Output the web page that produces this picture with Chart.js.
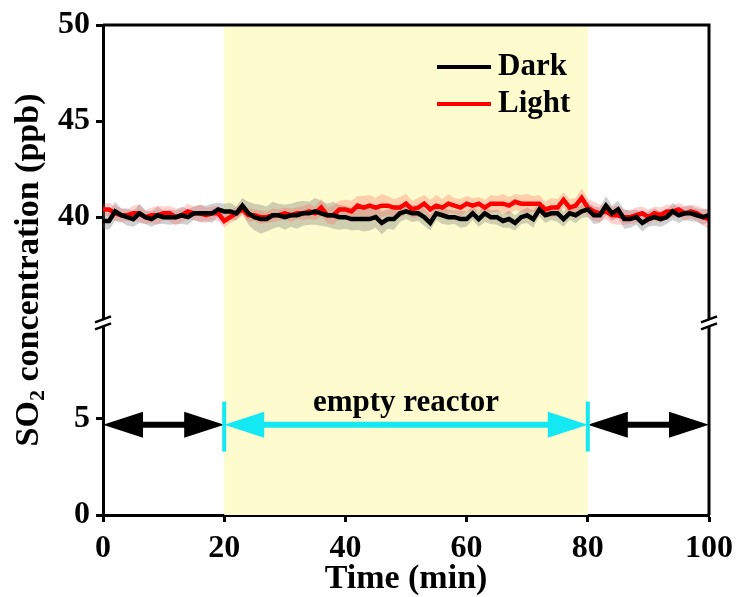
<!DOCTYPE html>
<html>
<head>
<meta charset="utf-8">
<script src="https://cdn.jsdelivr.net/npm/chart.js@4.4.1/dist/chart.umd.min.js"></script>
<style>
html, body { margin: 0; padding: 0; background: #fff; }
</style>
</head>
<body>
<canvas id="so2-chart" width="737" height="597"></canvas>
<script>
// SO2 concentration vs time, broken y axis (0-10 / 34.5-50)

// Data
const timeMin = [0,1,2,3,4,5,6,7,8,9,10,11,12,13,14,15,16,17,18,19,20,21,22,23,24,25,26,27,28,29,30,
  31,32,33,34,35,36,37,38,39,40,41,42,43,44,45,46,47,48,49,50,51,52,53,54,55,56,57,58,59,60,
  61,62,63,64,65,66,67,68,69,70,71,72,73,74,75,76,77,78,79,80,81,82,83,84,85,86,87,88,89,90,
  91,92,93,94,95,96,97,98,99,100];

const darkMean = [39.8,39.8,40.3,40.1,40.0,39.9,40.2,40.0,39.9,40.1,40.0,
  40.0,40.0,40.1,40.0,40.2,40.2,40.2,40.2,40.4,40.3,
  40.3,40.2,40.6,40.2,40.0,39.9,39.9,40.1,40.1,40.0,
  40.1,40.1,40.2,40.2,40.3,40.2,40.1,40.1,40.0,40.0,
  39.9,39.9,39.9,39.9,40.0,39.7,39.9,39.9,40.2,40.3,
  40.2,40.2,40.0,39.7,40.2,40.1,40.0,40.0,39.9,39.9,
  40.2,39.9,40.2,40.0,40.0,39.8,39.9,39.7,40.0,40.1,
  39.9,40.4,40.1,40.2,40.2,39.9,40.2,40.1,40.3,40.4,
  40.1,40.1,40.6,40.2,40.4,39.9,39.9,40.0,39.7,39.9,
  40.0,39.9,40.0,40.3,40.1,40.2,40.2,40.1,40.0,40.1];

const darkSd = [0.4,0.45,0.5,0.35,0.45,0.4,0.5,0.35,0.4,0.45,0.35,
  0.4,0.35,0.45,0.4,0.35,0.45,0.4,0.5,0.35,0.4,
  0.45,0.35,0.4,0.6,0.7,0.75,0.65,0.7,0.6,0.65,
  0.6,0.7,0.65,0.6,0.7,0.65,0.6,0.7,0.65,0.6,
  0.6,0.55,0.65,0.6,0.55,0.6,0.5,0.55,0.45,0.4,
  0.45,0.4,0.45,0.4,0.35,0.45,0.4,0.35,0.45,0.4,
  0.35,0.4,0.45,0.35,0.4,0.35,0.45,0.4,0.35,0.4,
  0.45,0.35,0.4,0.35,0.45,0.4,0.35,0.4,0.35,0.4,
  0.45,0.4,0.5,0.4,0.45,0.5,0.45,0.4,0.45,0.4,
  0.45,0.4,0.35,0.45,0.4,0.35,0.4,0.35,0.4,0.35];

const lightMean = [40.4,40.4,40.2,40.1,40.1,40.2,40.2,40.0,40.1,40.1,40.2,
  40.2,40.0,40.1,40.3,40.2,40.2,40.1,40.2,40.2,39.8,
  40.0,40.2,40.4,40.1,40.1,40.0,40.0,40.1,40.1,40.2,
  40.1,40.2,40.2,40.3,40.2,40.5,40.1,40.1,40.4,40.4,
  40.3,40.6,40.5,40.6,40.5,40.6,40.6,40.5,40.5,40.7,
  40.4,40.5,40.7,40.4,40.6,40.5,40.7,40.6,40.5,40.7,
  40.6,40.7,40.5,40.7,40.7,40.7,40.6,40.8,40.7,40.7,
  40.7,40.7,40.4,40.5,40.5,40.9,40.5,40.6,41.0,40.5,
  40.3,40.2,40.3,40.1,40.1,40.0,40.0,40.1,40.2,40.0,
  40.2,40.1,40.3,40.3,40.4,40.2,40.3,40.2,40.0,39.9];

const lightSd = [0.3,0.35,0.4,0.35,0.3,0.4,0.45,0.35,0.4,0.5,0.35,
  0.4,0.45,0.35,0.4,0.35,0.45,0.4,0.35,0.4,0.35,
  0.3,0.35,0.3,0.35,0.3,0.35,0.3,0.35,0.3,0.3,
  0.35,0.3,0.35,0.4,0.35,0.45,0.4,0.5,0.45,0.5,
  0.55,0.5,0.6,0.55,0.5,0.6,0.5,0.45,0.55,0.5,
  0.45,0.5,0.45,0.5,0.55,0.45,0.5,0.4,0.45,0.4,
  0.4,0.35,0.4,0.45,0.4,0.5,0.45,0.4,0.45,0.5,
  0.4,0.45,0.4,0.5,0.45,0.4,0.45,0.4,0.5,0.45,
  0.5,0.45,0.4,0.45,0.5,0.4,0.35,0.4,0.35,0.4,
  0.35,0.4,0.35,0.3,0.35,0.4,0.35,0.4,0.45,0.5];

const seriesLabels = ["Dark", "Light"];
const xTicks = [0, 20, 40, 60, 80, 100];
const lowTicks = [0, 5];
const highTicks = [40, 45, 50];
const lowRange = [0, 10];
const highRange = [34.5, 50];

// annotation values (data units)
const shadeRange = [20, 80];
const arrowLevel = 4.7;
const blackArrows = [[0, 20], [80, 100]];
const cyanArrow = [20, 80];
const cyanBarRange = [3.3, 5.9];
const annotationLabel = "empty reactor";
const annotationPos = [50, 5.85];

const FONT = "'Liberation Serif', 'Times New Roman', serif";

const xy = (means, sds, sign) => timeMin.map((t, i) => ({ x: t, y: means[i] + sign * sds[i] }));
const line = (means) => timeMin.map((t, i) => ({ x: t, y: means[i] }));

function drawDoubleArrow(ctx, x1, x2, y, color) {
    const head = 40, half = 13;
    ctx.save();
    ctx.strokeStyle = color;
    ctx.fillStyle = color;
    ctx.lineWidth = 6;
    ctx.beginPath();
    ctx.moveTo(x1 + head - 2, y);
    ctx.lineTo(x2 - head + 2, y);
    ctx.stroke();
    ctx.beginPath();
    ctx.moveTo(x1, y);
    ctx.lineTo(x1 + head, y - half);
    ctx.lineTo(x1 + head, y + half);
    ctx.closePath();
    ctx.fill();
    ctx.beginPath();
    ctx.moveTo(x2, y);
    ctx.lineTo(x2 - head, y - half);
    ctx.lineTo(x2 - head, y + half);
    ctx.closePath();
    ctx.fill();
    ctx.restore();
}

function drawBreak(ctx, cx, cy) {
    ctx.save();
    ctx.fillStyle = "#fff";
    ctx.beginPath();
    ctx.moveTo(cx - 4, cy - 1);
    ctx.lineTo(cx + 4, cy - 4);
    ctx.lineTo(cx + 4, cy + 3);
    ctx.lineTo(cx - 4, cy + 6);
    ctx.closePath();
    ctx.fill();
    ctx.strokeStyle = "#000";
    ctx.lineWidth = 2.5;
    for (const dy of [-3.5, 3.5]) {
        ctx.beginPath();
        ctx.moveTo(cx - 8, cy + dy + 3);
        ctx.lineTo(cx + 8, cy + dy - 3);
        ctx.stroke();
    }
    ctx.restore();
}

const decorPlugin = {
    id: "decor",
    beforeDatasetsDraw(chart) {
        const { ctx, chartArea: a, scales: { x } } = chart;
        const x1 = x.getPixelForValue(shadeRange[0]);
        const x2 = x.getPixelForValue(shadeRange[1]);
        ctx.save();
        ctx.fillStyle = "#fefcce";
        ctx.fillRect(x1, a.top, x2 - x1, a.bottom - a.top);
        ctx.restore();
    },
    afterDatasetsDraw(chart) {
        const { ctx, chartArea: a, scales: { x, yLow, yHigh } } = chart;

        // arrows in the lower panel
        const ay = yLow.getPixelForValue(arrowLevel);
        blackArrows.forEach(([s, e]) => drawDoubleArrow(ctx, x.getPixelForValue(s), x.getPixelForValue(e), ay, "#000"));
        drawDoubleArrow(ctx, x.getPixelForValue(cyanArrow[0]), x.getPixelForValue(cyanArrow[1]), ay, "#14e8f2");
        ctx.save();
        ctx.strokeStyle = "#14e8f2";
        ctx.lineWidth = 4;
        cyanArrow.forEach((v) => {
            const px = x.getPixelForValue(v);
            ctx.beginPath();
            ctx.moveTo(px, yLow.getPixelForValue(cyanBarRange[0]));
            ctx.lineTo(px, yLow.getPixelForValue(cyanBarRange[1]));
            ctx.stroke();
        });
        ctx.fillStyle = "#000";
        ctx.font = "bold 31px " + FONT;
        ctx.textAlign = "center";
        ctx.textBaseline = "middle";
        ctx.fillText(annotationLabel, x.getPixelForValue(annotationPos[0]), yLow.getPixelForValue(annotationPos[1]));
        ctx.restore();

        // frame top + right
        ctx.save();
        ctx.strokeStyle = "#000";
        ctx.lineWidth = 3;
        ctx.beginPath();
        ctx.moveTo(a.left, a.top);
        ctx.lineTo(a.right, a.top);
        ctx.lineTo(a.right, a.bottom);
        ctx.stroke();
        ctx.restore();

        // axis breaks
        const by = yHigh.bottom;
        drawBreak(ctx, a.left, by);
        drawBreak(ctx, a.right, by);

        // legend
        const colors = ["#000", "#ff0000"];
        ctx.save();
        ctx.font = "bold 31px " + FONT;
        ctx.textBaseline = "middle";
        ctx.textAlign = "left";
        seriesLabels.forEach((lbl, i) => {
            const ly = a.top + 42 + i * 37;
            ctx.strokeStyle = colors[i];
            ctx.lineWidth = 4;
            ctx.beginPath();
            ctx.moveTo(a.left + 334, ly);
            ctx.lineTo(a.left + 388, ly);
            ctx.stroke();
            ctx.fillStyle = "#000";
            ctx.fillText(lbl, a.left + 395, ly);
        });
        ctx.restore();

        // y title with subscript
        ctx.save();
        ctx.translate(29, (a.top + a.bottom) / 2);
        ctx.rotate(-Math.PI / 2);
        ctx.fillStyle = "#000";
        ctx.textBaseline = "middle";
        ctx.textAlign = "left";
        const big = "bold 34px " + FONT, small = "bold 22px " + FONT;
        ctx.font = big;
        const w1 = ctx.measureText("SO").width;
        const w3 = ctx.measureText(" concentration (ppb)").width;
        ctx.font = small;
        const w2 = ctx.measureText("2").width;
        let px = -(w1 + w2 + w3) / 2;
        ctx.font = big;
        ctx.fillText("SO", px, 0);
        px += w1;
        ctx.font = small;
        ctx.fillText("2", px, 9);
        px += w2;
        ctx.font = big;
        ctx.fillText(" concentration (ppb)", px, 0);
        ctx.restore();
    }
};

const axisGrid = { display: true, drawOnChartArea: false, drawTicks: true, tickLength: 7, tickWidth: 3, color: "#000" };
const axisBorder = { display: true, width: 3, color: "#000" };
const tickFont = { family: FONT, size: 32, weight: "bold" };

new Chart(document.getElementById("so2-chart"), {
    type: "line",
    data: {
        datasets: [
            { label: "darkUpper", data: xy(darkMean, darkSd, 1), yAxisID: "yHigh", borderWidth: 0, pointRadius: 0,
              fill: "+1", backgroundColor: "rgba(110,110,110,0.32)", order: 3 },
            { label: "darkLower", data: xy(darkMean, darkSd, -1), yAxisID: "yHigh", borderWidth: 0, pointRadius: 0,
              fill: false, order: 3 },
            { label: "lightUpper", data: xy(lightMean, lightSd, 1), yAxisID: "yHigh", borderWidth: 0, pointRadius: 0,
              fill: "+1", backgroundColor: "rgba(255,90,90,0.28)", order: 2 },
            { label: "lightLower", data: xy(lightMean, lightSd, -1), yAxisID: "yHigh", borderWidth: 0, pointRadius: 0,
              fill: false, order: 2 },
            { label: seriesLabels[1], data: line(lightMean), yAxisID: "yHigh", borderColor: "#ff0000", borderWidth: 4.5,
              pointRadius: 0, fill: false, order: 1 },
            { label: seriesLabels[0], data: line(darkMean), yAxisID: "yHigh", borderColor: "#000", borderWidth: 4.5,
              pointRadius: 0, fill: false, order: 0 }
        ]
    },
    options: {
        responsive: false,
        animation: false,
        devicePixelRatio: 1,
        layout: { padding: { left: 0, right: 28, top: 25, bottom: 0 } },
        plugins: { legend: { display: false }, tooltip: { enabled: false } },
        scales: {
            x: {
                type: "linear", min: 0, max: 100,
                afterBuildTicks: (s) => { s.ticks = xTicks.map((v) => ({ value: v })); },
                afterFit: (s) => { s.height = 82; s.paddingLeft = 0; s.paddingRight = 0; },
                ticks: { font: tickFont, color: "#000", padding: 8 },
                grid: axisGrid, border: axisBorder,
                title: { display: true, text: "Time (min)", font: { family: FONT, size: 34, weight: "bold" }, color: "#000", padding: { top: 0, bottom: -3 } }
            },
            yLow: {
                type: "linear", position: "left", stack: "y", stackWeight: lowRange[1] - lowRange[0],
                min: lowRange[0], max: lowRange[1],
                afterBuildTicks: (s) => { s.ticks = lowTicks.map((v) => ({ value: v })); },
                afterFit: (s) => { s.width = 103; s.paddingTop = 0; s.paddingBottom = 0; },
                ticks: { font: tickFont, color: "#000", padding: 6 },
                grid: axisGrid, border: axisBorder
            },
            yHigh: {
                type: "linear", position: "left", stack: "y", stackWeight: highRange[1] - highRange[0],
                min: highRange[0], max: highRange[1],
                afterBuildTicks: (s) => { s.ticks = highTicks.map((v) => ({ value: v })); },
                afterFit: (s) => { s.width = 103; s.paddingTop = 0; s.paddingBottom = 0; },
                ticks: { font: tickFont, color: "#000", padding: 6 },
                grid: axisGrid, border: axisBorder
            }
        }
    },
    plugins: [decorPlugin]
});
</script>
</body>
</html>
